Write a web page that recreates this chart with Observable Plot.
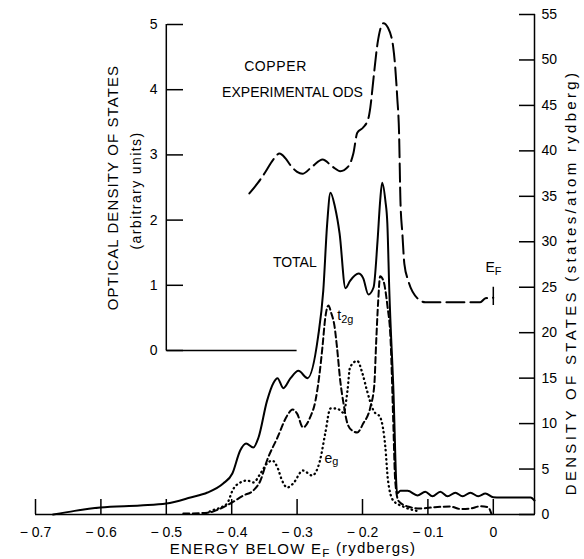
<!DOCTYPE html>
<html><head><meta charset="utf-8">
<script src="https://cdn.jsdelivr.net/npm/d3@7"></script>
<script src="https://cdn.jsdelivr.net/npm/@observablehq/plot@0.6"></script>
<style>
body{margin:0;background:#fff;}
#wrap{position:relative;width:584px;height:559px;background:#fff;}
#wrap svg{position:absolute;left:0;top:0;}
</style></head><body><div id="wrap"></div>
<script>
// ---- data ----
const xDomain = [-0.7, 0.063];
const xTicks = [-0.7, -0.6, -0.5, -0.4, -0.3, -0.2, -0.1, 0];
const xTickLabels = ["\u2212 0.7", "\u2212 0.6", "\u2212 0.5", "\u2212 0.4", "\u2212 0.3", "\u2212 0.2", "\u2212 0.1", "0"];
const dosTicks = [0, 5, 10, 15, 20, 25, 30, 35, 40, 45, 50, 55];
const odsTicks = [0, 1, 2, 3, 4, 5];
const odsAxisE = [-0.5, -0.3];      // extent of the inset's base line (energy)
const efMarkV = [0.69, 0.97];       // E_F marker on the ODS curve

// total density of states (energy, states/atom Ry)
const total = [[-0.673,0],[-0.64,0.4],[-0.601,0.77],[-0.54,1.0],[-0.5,1.21],[-0.463,1.87],[-0.437,2.42],[-0.413,3.41],[-0.399,4.51],[-0.387,7.04],[-0.378,7.81],[-0.367,7.37],[-0.359,8.47],[-0.346,12.5],[-0.336,14.5],[-0.330,15.0],[-0.321,13.9],[-0.31,15.0],[-0.298,15.8],[-0.284,15.0],[-0.268,19.5],[-0.260,24.6],[-0.254,32.0],[-0.249,35.4],[-0.242,33.8],[-0.235,30.9],[-0.226,24.9],[-0.219,25.7],[-0.206,26.5],[-0.199,26.0],[-0.191,24.2],[-0.183,25.0],[-0.177,30.1],[-0.173,34.5],[-0.170,36.5],[-0.165,34.5],[-0.162,32.0],[-0.159,24.6],[-0.153,14.2],[-0.147,2.3],[-0.142,2.6],[-0.131,2.6],[-0.116,2.1],[-0.104,2.5],[-0.093,2.0],[-0.081,2.5],[-0.070,2.0],[-0.058,2.4],[-0.047,2.0],[-0.035,2.4],[-0.023,2.0],[-0.012,2.3],[0,1.9],[0.011,1.87],[0.057,1.87],[0.063,1.54]];
// t2g partial DOS
const t2g = [[-0.474,0.1],[-0.437,0.2],[-0.417,0.66],[-0.402,1.21],[-0.382,2.09],[-0.367,2.64],[-0.356,3.74],[-0.346,5.94],[-0.330,8.47],[-0.315,10.9],[-0.307,11.55],[-0.300,11.1],[-0.291,9.57],[-0.280,10.7],[-0.272,12.5],[-0.266,15.3],[-0.261,18.6],[-0.257,21.6],[-0.252,23.0],[-0.248,22.2],[-0.243,20.8],[-0.239,18.4],[-0.234,14.7],[-0.229,12.2],[-0.223,10.0],[-0.216,9.24],[-0.208,9.02],[-0.199,10.0],[-0.188,11.8],[-0.182,14.2],[-0.179,19.1],[-0.176,23.5],[-0.173,26.2],[-0.168,25.7],[-0.162,23.0],[-0.157,19.1],[-0.153,10.3],[-0.150,3.7],[-0.145,1.5],[-0.131,0.88],[-0.112,0.66],[-0.09,0.8],[-0.066,0.88],[-0.05,0.6],[-0.035,0.66],[-0.02,0.9],[-0.008,0.8],[-0.003,0.1]];
// eg partial DOS
const eg = [[-0.44,0.1],[-0.43,0.44],[-0.417,0.77],[-0.407,1.21],[-0.398,2.75],[-0.387,3.52],[-0.376,3.74],[-0.367,3.52],[-0.356,4.51],[-0.346,5.61],[-0.338,5.94],[-0.330,5.17],[-0.323,3.74],[-0.315,2.97],[-0.306,3.41],[-0.291,4.84],[-0.277,4.29],[-0.265,5.94],[-0.257,8.91],[-0.249,11.66],[-0.239,11.66],[-0.229,11.2],[-0.223,13.6],[-0.219,16.2],[-0.208,16.9],[-0.200,15.5],[-0.193,13.6],[-0.183,11.4],[-0.173,10.7],[-0.165,7.37],[-0.161,3.74],[-0.153,1.54],[-0.138,0.88],[-0.112,0.33]];
// copper experimental optical density of states (energy, arbitrary units)
const ods = [[-0.373,2.41],[-0.360,2.57],[-0.349,2.73],[-0.337,2.92],[-0.327,3.02],[-0.318,2.95],[-0.310,2.84],[-0.300,2.74],[-0.292,2.71],[-0.277,2.82],[-0.261,2.93],[-0.246,2.82],[-0.234,2.75],[-0.222,2.82],[-0.214,3.02],[-0.208,3.34],[-0.199,3.42],[-0.191,3.56],[-0.188,3.73],[-0.183,4.19],[-0.177,4.71],[-0.168,5.02],[-0.161,4.95],[-0.153,4.65],[-0.147,3.9],[-0.144,3.3],[-0.142,2.3],[-0.139,1.79],[-0.136,1.33],[-0.130,1.07],[-0.116,0.80],[-0.104,0.74],[-0.02,0.74],[-0.012,0.80],[0,0.81]];

const FONT = "'Liberation Sans', Arial, sans-serif";
const W = 584, H = 559;
const X = d => d[0], Y = d => d[1];
const TITLE_X = "ENERGY BELOW E_{F} (rydbergs)";
const TITLE_R = "DENSITY OF STATES (states/atom rydberg)";
const TITLE_L1 = "OPTICAL DENSITY OF STATES";
const TITLE_L2 = "(arbitrary units)";
const spacing = {[TITLE_X]: 1.2, [TITLE_R]: 3.3, [TITLE_L1]: 1.1, [TITLE_L2]: 1.4, "COPPER": 0.6};

const main = Plot.plot({
  width: W, height: H,
  marginLeft: 35, marginRight: 50, marginTop: 14, marginBottom: 45,
  style: {fontFamily: FONT, fontSize: "14px", background: "transparent", color: "black", overflow: "visible"},
  x: {domain: xDomain},
  y: {domain: [0, 55]},
  marks: [
    Plot.ruleY([0], {strokeWidth: 1.5}),
    Plot.ruleX([xDomain[1]], {strokeWidth: 1.5}),
    Plot.axisX({ticks: xTicks, tickFormat: d => xTickLabels[xTicks.indexOf(d)], tickSize: -15, tickPadding: 28, strokeWidth: 1.5, label: null}),
    Plot.axisY({anchor: "right", ticks: dosTicks, tickFormat: d => String(d), tickSize: -16, tickPadding: 23, strokeWidth: 1.5, label: null}),
    Plot.line(total, {x: X, y: Y, curve: "monotone-x", strokeWidth: 2}),
    Plot.line(t2g, {x: X, y: Y, curve: "monotone-x", strokeWidth: 2, strokeDasharray: "6,3.5"}),
    Plot.line(eg, {x: X, y: Y, curve: "monotone-x", strokeWidth: 2.3, strokeDasharray: "0.5,4", strokeLinecap: "round"}),
    Plot.text(["TOTAL"], {x: -0.3035, y: 27.7, textAnchor: "middle"}),
    Plot.text(["t_{2g}"], {x: -0.2385, y: 21.9, textAnchor: "start"}),
    Plot.text(["e_{g}"], {x: -0.258, y: 6.2, textAnchor: "start"}),
    Plot.text([TITLE_X], {frameAnchor: "bottom", textAnchor: "middle", dy: 35, dx: 8, fontSize: 15, lineAnchor: "middle"}),
    Plot.text([TITLE_R], {frameAnchor: "right", textAnchor: "middle", dx: 37, dy: 18, rotate: -90, fontSize: 15, lineAnchor: "middle"})
  ]
});

const inset = Plot.plot({
  width: W, height: H,
  marginLeft: 167, marginRight: 288, marginTop: 24, marginBottom: 209,
  style: {fontFamily: FONT, fontSize: "14px", background: "transparent", color: "black", overflow: "visible"},
  x: {domain: xDomain, range: [35, 534], axis: null},
  y: {domain: [0, 5]},
  marks: [
    Plot.ruleY([0], {x1: odsAxisE[0], x2: odsAxisE[1], strokeWidth: 1.5}),
    Plot.ruleX([odsAxisE[0]], {y1: 0, y2: 5, strokeWidth: 1.5}),
    Plot.axisY({anchor: "left", ticks: odsTicks, tickFormat: d => String(d), tickSize: -16, tickPadding: 26, strokeWidth: 1.5, label: null}),
    Plot.line(ods, {x: X, y: Y, curve: "monotone-x", strokeWidth: 2, strokeDasharray: "18,6"}),
    Plot.ruleX([0], {y1: efMarkV[0], y2: efMarkV[1], strokeWidth: 1.5}),
    Plot.text(["E_{F}"], {x: -0.012, y: 1.27, textAnchor: "start", fontSize: 14}),
    Plot.text(["COPPER"], {x: -0.333, y: 4.36, textAnchor: "middle"}),
    Plot.text(["EXPERIMENTAL ODS"], {x: -0.307, y: 3.96, textAnchor: "middle"}),
    Plot.text([TITLE_L1], {frameAnchor: "left", textAnchor: "middle", dx: -54, rotate: -90, fontSize: 15, lineAnchor: "middle"}),
    Plot.text([TITLE_L2], {frameAnchor: "left", textAnchor: "middle", dx: -31, dy: 3, rotate: -90, lineAnchor: "middle"})
  ]
});

function postText(svg) {
  const ns = "http://www.w3.org/2000/svg";
  svg.querySelectorAll("text").forEach(t => {
    const s = t.textContent;
    if (spacing[s] != null) t.setAttribute("letter-spacing", spacing[s]);
    const m = s.match(/^(.*?)_\{(.+?)\}(.*)$/);
    if (!m) return;
    t.textContent = "";
    const a = document.createElementNS(ns, "tspan"); a.textContent = m[1];
    const b = document.createElementNS(ns, "tspan"); b.textContent = m[2];
    b.setAttribute("dy", "0.25em"); b.setAttribute("font-size", "0.78em");
    t.append(a, b);
    if (m[3]) {
      const c = document.createElementNS(ns, "tspan"); c.textContent = m[3];
      c.setAttribute("dy", "-0.25em");
      t.append(c);
    }
  });
}
postText(main); postText(inset);
const wrap = document.getElementById("wrap");
wrap.append(main, inset);
</script></body></html>
